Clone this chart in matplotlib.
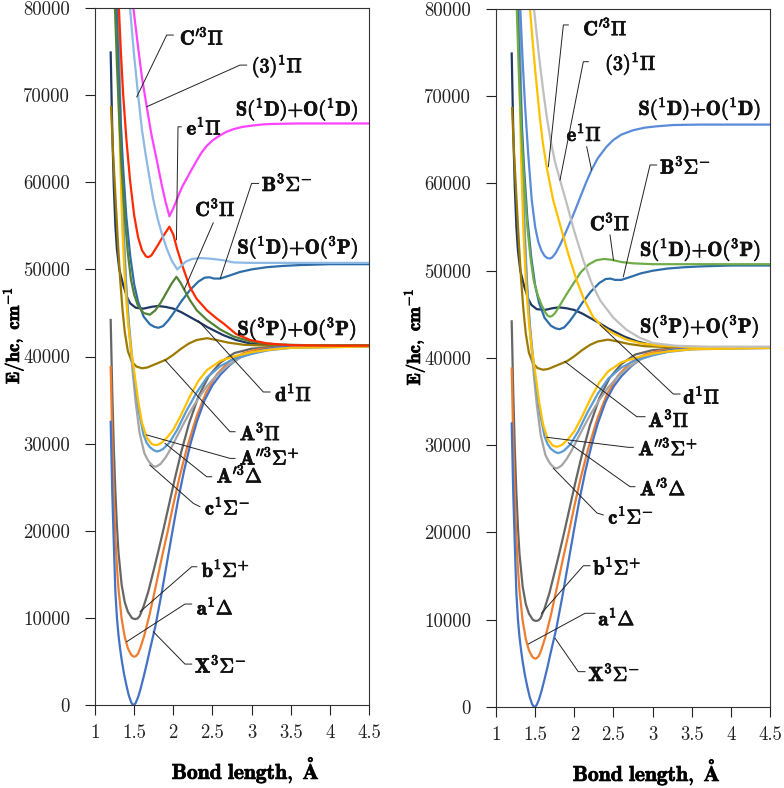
import matplotlib
matplotlib.use("Agg")
import matplotlib.pyplot as plt
import matplotlib.patheffects as pe
from matplotlib.ticker import FixedLocator, FixedFormatter

plt.rcParams['font.family'] = 'serif'
plt.rcParams['font.serif'] = ['cmr10', 'DejaVu Serif']
plt.rcParams['mathtext.fontset'] = 'cm'
plt.rcParams['axes.unicode_minus'] = False
plt.rcParams['axes.formatter.use_mathtext'] = True

# ---------------- data ----------------
xticks = [1, 1.5, 2, 2.5, 3, 3.5, 4, 4.5]
xticklabels = ['1', '1.5', '2', '2.5', '3', '3.5', '4', '4.5']
yticks = [0, 10000, 20000, 30000, 40000, 50000, 60000, 70000, 80000]
yticklabels = ['0', '10000', '20000', '30000', '40000', '50000', '60000', '70000', '80000']

X_r = [1.20, 1.22, 1.24, 1.26, 1.28, 1.30, 1.32, 1.34, 1.37, 1.40, 1.43, 1.46, 1.475, 1.49, 1.505, 1.52, 1.55, 1.58, 1.62, 1.66, 1.70, 1.77, 1.85, 1.92, 1.99, 2.06, 2.14, 2.22, 2.30, 2.40, 2.50, 2.60, 2.72, 2.85, 2.98, 3.15, 3.35, 3.60, 4.00, 4.50]
X_E = [32500, 24500, 18500, 13000, 10000, 8000, 6500, 5200, 3600, 2300, 1150, 350, 120, 0, 60, 250, 900, 1800, 3200, 4700, 6300, 9000, 12800, 16400, 20000, 23500, 27000, 30000, 32500, 35000, 36700, 37900, 39000, 39900, 40400, 40800, 41050, 41150, 41200, 41200]

a_r = [1.20, 1.22, 1.24, 1.26, 1.28, 1.30, 1.34, 1.38, 1.42, 1.46, 1.48, 1.50, 1.52, 1.55, 1.58, 1.63, 1.70, 1.78, 1.86, 1.93, 2.00, 2.08, 2.18, 2.30, 2.42, 2.56, 2.72, 2.90, 3.10, 3.40, 3.80, 4.50]
a_E = [38800, 30500, 24000, 19300, 15800, 13300, 9900, 7800, 6500, 5800, 5620, 5540, 5600, 5900, 6600, 8000, 10500, 13800, 17200, 20000, 23000, 26200, 29700, 33200, 35900, 38000, 39500, 40400, 40850, 41100, 41200, 41200]

b_r = [1.20, 1.22, 1.24, 1.26, 1.28, 1.30, 1.34, 1.38, 1.42, 1.47, 1.50, 1.52, 1.545, 1.57, 1.62, 1.68, 1.75, 1.81, 1.87, 1.94, 2.02, 2.10, 2.20, 2.32, 2.45, 2.60, 2.78, 3.00, 3.30, 3.70, 4.50]
b_E = [44200, 36000, 29500, 24500, 20500, 17500, 13800, 11800, 10700, 10000, 9880, 9870, 9950, 10200, 11300, 13000, 15500, 17700, 20000, 22800, 26000, 29000, 32300, 35400, 37700, 39300, 40400, 40900, 41100, 41200, 41200]

c_r = [1.30, 1.32, 1.34, 1.37, 1.40, 1.44, 1.48, 1.52, 1.57, 1.63, 1.67, 1.70, 1.74, 1.77, 1.80, 1.84, 1.90, 1.96, 2.04, 2.12, 2.21, 2.32, 2.43, 2.56, 2.70, 2.86, 3.05, 3.30, 3.70, 4.50]
c_E = [80000, 71000, 63000, 54000, 48000, 42500, 38300, 34700, 31200, 28900, 28200, 27800, 27450, 27350, 27450, 27700, 28400, 29300, 30700, 32100, 33600, 35200, 36600, 37900, 39000, 39900, 40500, 40900, 41100, 41150]

Ap_r = [1.29, 1.31, 1.33, 1.36, 1.39, 1.43, 1.47, 1.51, 1.56, 1.62, 1.66, 1.70, 1.75, 1.79, 1.83, 1.87, 1.95, 2.05, 2.17, 2.30, 2.43, 2.60, 2.77, 3.00, 3.20, 3.50, 4.50]
Ap_E = [80000, 71000, 63000, 54500, 49000, 44000, 40300, 37000, 33700, 31000, 30100, 29600, 29250, 29100, 29200, 29400, 30100, 31600, 33800, 35900, 37600, 38900, 39700, 40300, 40700, 41000, 41150]

App_r = [1.28, 1.30, 1.32, 1.35, 1.38, 1.42, 1.46, 1.50, 1.55, 1.60, 1.66, 1.72, 1.75, 1.78, 1.81, 1.85, 1.92, 2.00, 2.10, 2.21, 2.32, 2.43, 2.60, 2.77, 3.00, 3.20, 3.50, 4.50]
App_E = [80000, 71000, 63000, 54500, 49000, 44000, 40800, 38300, 35000, 32400, 30700, 30000, 29880, 29840, 29900, 30100, 30700, 31600, 33300, 35400, 37200, 38450, 39500, 40000, 40500, 40750, 41000, 41150]

A_r = [1.205, 1.23, 1.26, 1.29, 1.32, 1.35, 1.38, 1.42, 1.47, 1.53, 1.60, 1.67, 1.75, 1.83, 1.91, 2.00, 2.10, 2.20, 2.30, 2.43, 2.55, 2.70, 2.90, 3.20, 3.60, 4.50]
A_E = [68650, 63500, 58500, 53500, 49000, 45500, 42800, 40600, 39400, 38850, 38650, 38750, 39050, 39350, 39650, 40200, 40900, 41500, 41900, 42100, 41900, 41600, 41350, 41250, 41200, 41200]

d_r = [1.20, 1.22, 1.24, 1.26, 1.28, 1.31, 1.36, 1.41, 1.45, 1.52, 1.62, 1.72, 1.80, 1.90, 2.00, 2.10, 2.21, 2.32, 2.43, 2.54, 2.64, 2.80, 2.98, 3.20, 3.50, 4.50]
d_E = [74900, 66000, 59500, 55000, 52300, 50000, 48200, 46800, 46100, 45600, 45500, 45700, 45800, 45700, 45500, 45100, 44550, 44000, 43400, 42900, 42450, 41900, 41500, 41300, 41200, 41200]

B_r = [1.277, 1.30, 1.33, 1.36, 1.40, 1.45, 1.50, 1.55, 1.62, 1.70, 1.76, 1.81, 1.87, 1.94, 2.00, 2.10, 2.21, 2.32, 2.40, 2.46, 2.52, 2.60, 2.72, 2.85, 3.00, 3.19, 3.40, 3.62, 4.00, 4.50]
B_E = [80000, 73000, 66500, 61500, 56000, 51500, 48300, 46300, 44600, 43700, 43400, 43300, 43500, 44200, 44950, 46300, 47600, 48600, 49050, 49100, 48950, 48950, 49300, 49700, 50000, 50250, 50400, 50500, 50600, 50600]

# left panel (adiabatic) only
C_left_r = [1.255, 1.28, 1.31, 1.34, 1.38, 1.42, 1.46, 1.50, 1.55, 1.62, 1.70, 1.77, 1.84, 1.91, 1.98, 2.04, 2.09, 2.15, 2.21, 2.30, 2.43, 2.60, 2.77, 3.00, 3.30, 3.70, 4.50]
C_left_E = [80000, 73500, 67000, 61500, 56000, 51800, 48800, 47100, 45800, 45000, 44800, 45300, 46200, 47300, 48400, 49150, 48500, 47500, 46500, 45300, 44200, 43100, 42300, 41700, 41400, 41300, 41300]

e_left_r = [1.305, 1.33, 1.36, 1.40, 1.447, 1.50, 1.55, 1.60, 1.65, 1.68, 1.72, 1.79, 1.87, 1.95, 2.00, 2.05, 2.12, 2.21, 2.30, 2.43, 2.55, 2.64, 2.80, 2.98, 3.20, 3.50, 4.00, 4.50]
e_left_E = [80000, 75000, 70000, 65000, 60250, 56200, 53700, 52200, 51500, 51400, 51600, 52600, 53800, 54900, 54000, 52300, 50300, 48000, 46600, 45300, 44400, 43800, 42600, 41900, 41500, 41300, 41250, 41250]

Cp_left_r = [1.447, 1.50, 1.553, 1.60, 1.65, 1.70, 1.745, 1.80, 1.86, 1.92, 1.98, 2.05, 2.10, 2.16, 2.24, 2.34, 2.45, 2.55, 2.64, 2.77, 2.98, 3.30, 4.50]
Cp_left_E = [80000, 74500, 69800, 66000, 63000, 60300, 58000, 55800, 53900, 52300, 51000, 50000, 50400, 50900, 51200, 51300, 51250, 51150, 51050, 50800, 50750, 50750, 50750]

Pi3_left_r = [1.49, 1.55, 1.60, 1.66, 1.72, 1.79, 1.85, 1.90, 1.95, 2.00, 2.04, 2.08, 2.12, 2.17, 2.23, 2.30, 2.36, 2.43, 2.50, 2.60, 2.68, 2.77, 2.88, 3.00, 3.15, 3.28, 3.60, 4.50]
Pi3_left_E = [80000, 75500, 72000, 68700, 65500, 62500, 59800, 57800, 56100, 57000, 57900, 58800, 59600, 60400, 61400, 62500, 63400, 64200, 64800, 65400, 65800, 66100, 66350, 66500, 66650, 66700, 66750, 66750]

# right panel (diabatic) only
C_right_r = [1.265, 1.29, 1.32, 1.36, 1.40, 1.44, 1.48, 1.53, 1.58, 1.63, 1.66, 1.69, 1.72, 1.75, 1.82, 1.90, 1.99, 2.08, 2.18, 2.28, 2.38, 2.48, 2.60, 2.75, 3.00, 3.30, 4.50]
C_right_E = [80000, 73000, 66500, 60000, 55000, 51500, 48950, 47300, 46100, 45200, 44850, 44730, 44850, 45100, 46100, 47300, 48560, 49800, 50700, 51200, 51350, 51250, 51000, 50850, 50750, 50750, 50750]

e_right_r = [1.31, 1.34, 1.37, 1.41, 1.456, 1.50, 1.54, 1.58, 1.62, 1.655, 1.69, 1.72, 1.76, 1.82, 1.90, 2.00, 2.07, 2.15, 2.22, 2.30, 2.41, 2.50, 2.60, 2.75, 2.90, 3.05, 3.26, 3.60, 4.50]
e_right_E = [80000, 74000, 69000, 63500, 58100, 55000, 53300, 52300, 51700, 51450, 51400, 51550, 52000, 53000, 54600, 56700, 58300, 60100, 61550, 62900, 64200, 65000, 65600, 66100, 66400, 66550, 66700, 66750, 66750]

Cp_right_r = [1.434, 1.47, 1.50, 1.56, 1.60, 1.647, 1.69, 1.73, 1.82, 1.92, 2.03, 2.12, 2.24, 2.37, 2.50, 2.67, 2.84, 3.10, 3.50, 4.50]
Cp_right_E = [80000, 76000, 73000, 67500, 64500, 61900, 59900, 58100, 55200, 52000, 48900, 46800, 44700, 43500, 42800, 42100, 41700, 41400, 41250, 41200]

Pi3_right_r = [1.485, 1.55, 1.60, 1.65, 1.70, 1.75, 1.817, 1.90, 2.00, 2.115, 2.22, 2.33, 2.50, 2.67, 2.84, 3.01, 3.30, 3.70, 4.50]
Pi3_right_E = [80000, 74500, 70800, 67500, 64800, 62600, 60400, 57800, 54500, 51200, 48600, 46600, 44600, 43200, 42300, 41700, 41400, 41300, 41300]

# ---------------- styles ----------------
col = dict(X='#4472C4', a='#ED7D31', b='#666666', c='#A5A5A5', Ap='#5B9BD5',
           App='#FFC000', A='#9C7A00', d='#203864', B='#2E6DA8',
           C_left='#548235', e_left='#FF2A00', Cp_left='#8DB9E4', Pi3_left='#FF44FF',
           C_right='#70AD47', e_right='#5A8BD8', Cp_right='#FFC000', Pi3_right='#BFBFBF')

common = [('d', d_r, d_E), ('A', A_r, A_E), ('b', b_r, b_E), ('a', a_r, a_E), ('X', X_r, X_E),
          ('c', c_r, c_E), ('Ap', Ap_r, Ap_E), ('App', App_r, App_E), ('B', B_r, B_E)]
left_only = [('C_left', C_left_r, C_left_E), ('e_left', e_left_r, e_left_E),
             ('Cp_left', Cp_left_r, Cp_left_E), ('Pi3_left', Pi3_left_r, Pi3_left_E)]
right_only = [('C_right', C_right_r, C_right_E), ('e_right', e_right_r, e_right_E),
              ('Cp_right', Cp_right_r, Cp_right_E), ('Pi3_right', Pi3_right_r, Pi3_right_E)]

Pi, Sg, Dl = r'\Pi', r'\Sigma', r'\Delta'
T = dict(
    Cp=r'$\mathbf{C^{\prime 3}}' + Pi + '$',
    Pi3=r'$\mathbf{(3)^{1}}' + Pi + '$',
    DD=r'$\mathbf{S(^{1}D){+}O(^{1}D)}$',
    e=r'$\mathbf{e^{1}}' + Pi + '$',
    B=r'$\mathbf{B^{3}}' + Sg + '^{-}$',
    C=r'$\mathbf{C^{3}}' + Pi + '$',
    DP=r'$\mathbf{S(^{1}D){+}O(^{3}P)}$',
    PP=r'$\mathbf{S(^{3}P){+}O(^{3}P)}$',
    d=r'$\mathbf{d^{1}}' + Pi + '$',
    A=r'$\mathbf{A^{3}}' + Pi + '$',
    App=r'$\mathbf{A^{\prime\prime 3}}' + Sg + '^{+}$',
    Ap=r'$\mathbf{A^{\prime 3}}' + Dl + '$',
    c=r'$\mathbf{c^{1}}' + Sg + '^{-}$',
    b=r'$\mathbf{b^{1}}' + Sg + '^{+}$',
    a=r'$\mathbf{a^{1}}' + Dl + '$',
    X=r'$\mathbf{X^{3}}' + Sg + '^{-}$',
)

left_labels = [
    ('Cp', (2.085, 76600), [(2.0, 76900), (1.916, 76900), (1.533, 69800)]),
    ('Pi3', (3.0, 73300), [(2.937, 73450), (2.852, 73450), (1.66, 68670)]),
    ('DD', (2.80, 68350), None),
    ('e', (2.17, 66280), [(2.1, 66370), (2.06, 66370), (2.04, 53400)]),
    ('B', (3.13, 59800), [(3.09, 59870), (3.0, 59870), (2.6, 48970)]),
    ('C', (2.28, 56930), [(2.51, 55350), (2.14, 47700)]),
    ('DP', (2.82, 52500), None),
    ('PP', (2.82, 43150), None),
    ('d', (3.3, 35690), [(3.235, 35930), (3.15, 35930), (2.32, 44100)]),
    ('A', (2.85, 31200), [(2.788, 31370), (2.724, 31370), (1.894, 39600)]),
    ('App', (2.85, 28400), [(2.788, 28310), (2.724, 28310), (1.66, 31000)]),
    ('Ap', (2.554, 26340), [(2.49, 26200), (2.427, 26200), (1.894, 30030)]),
    ('c', (2.405, 22670), [(2.34, 22760), (2.255, 23150), (1.70, 27540)]),
    ('b', (2.363, 15500), [(2.30, 15870), (2.235, 15870), (1.575, 10700)]),
    ('a', (2.30, 11190), [(2.235, 11590), (2.149, 11590), (1.405, 7270)]),
    ('X', (2.277, 4530), [(2.235, 4700), (2.149, 4700), (1.745, 8410)]),
]

right_labels = [
    ('Cp', (2.115, 77790), [(1.923, 78170), (1.86, 78170), (1.668, 61930)]),
    ('Pi3', (2.392, 73700), [(2.179, 73960), (2.115, 73960), (1.817, 60400)]),
    ('DD', (2.82, 68540), None),
    ('e', (1.903, 65670), [(2.158, 64220), (2.22, 61550)]),
    ('B', (3.095, 61930), [(3.052, 62120), (2.967, 62120), (2.626, 49320)]),
    ('C', (2.20, 55440), [(2.456, 54100), (2.50, 51230)]),
    ('DP', (2.84, 52380), None),
    ('PP', (2.84, 43590), None),
    ('d', (3.392, 35570), [(3.35, 35870), (3.264, 35870), (2.33, 43780)]),
    ('A', (2.945, 32890), [(2.903, 33270), (2.797, 33270), (1.88, 39580)]),
    ('App', (2.817, 29650), [(2.753, 29760), (2.69, 29760), (1.648, 30910)]),
    ('Ap', (2.839, 25060), [(2.775, 25250), (2.711, 25250), (1.923, 30290)]),
    ('c', (2.434, 21810), [(2.37, 22010), (2.29, 22230), (1.732, 27360)]),
    ('b', (2.243, 15990), [(2.20, 16190), (2.115, 16190), (1.58, 10740)]),
    ('a', (2.307, 10160), [(2.264, 10740), (2.137, 10740), (1.413, 7220)]),
    ('X', (2.179, 3780), [(2.137, 4050), (2.05, 4050), (1.755, 7870)]),
]

fig = plt.figure(figsize=(7.84, 7.88), dpi=100)
axL = fig.add_axes([0.1212, 0.1053, 0.3495, 0.8845])
axR = fig.add_axes([0.6327, 0.1028, 0.3495, 0.8858])

stroke = [pe.withStroke(linewidth=0.6, foreground='#111111')]


def panel(ax, curves, labels):
    for key, r, E in curves:
        ax.plot(r, E, color=col[key], lw=1.6, solid_joinstyle='round', zorder=2)
    for key, (tx, ty), lead in labels:
        ax.text(tx, ty, T[key], fontsize=14.5, ha='left', va='center', color='#111111',
                zorder=5, clip_on=False, path_effects=stroke)
        if lead:
            xs = [p[0] for p in lead]
            ys = [p[1] for p in lead]
            ax.plot(xs, ys, color='#222222', lw=0.7, zorder=4)
    ax.set_xlim(1, 4.5)
    ax.set_ylim(0, 80000)
    ax.xaxis.set_major_locator(FixedLocator(xticks))
    ax.xaxis.set_major_formatter(FixedFormatter(xticklabels))
    ax.yaxis.set_major_locator(FixedLocator(yticks))
    ax.yaxis.set_major_formatter(FixedFormatter(yticklabels))
    ax.tick_params(axis='both', direction='out', length=7, width=0.8, labelsize=13.5,
                   top=False, right=False, colors='#222222')
    ax.tick_params(axis='y', pad=11)
    ax.tick_params(axis='x', pad=7)
    for s in ax.spines.values():
        s.set_linewidth(0.8)
        s.set_color('#333333')
    ax.set_xlabel(r'$\mathbf{Bond\ length,\ \AA}$', fontsize=15.5, va='center',
                  path_effects=stroke)
    ax.set_ylabel(r'$\mathbf{E/hc,\ cm^{-1}}$', fontsize=13.5, va='center',
                  path_effects=stroke)
    ax.xaxis.set_label_coords(0.55, -0.093)
    ax.yaxis.set_label_coords(-0.300, 0.53)


panel(axL, common + left_only, left_labels)
panel(axR, common + right_only, right_labels)

fig.savefig('out.png', dpi=100)
